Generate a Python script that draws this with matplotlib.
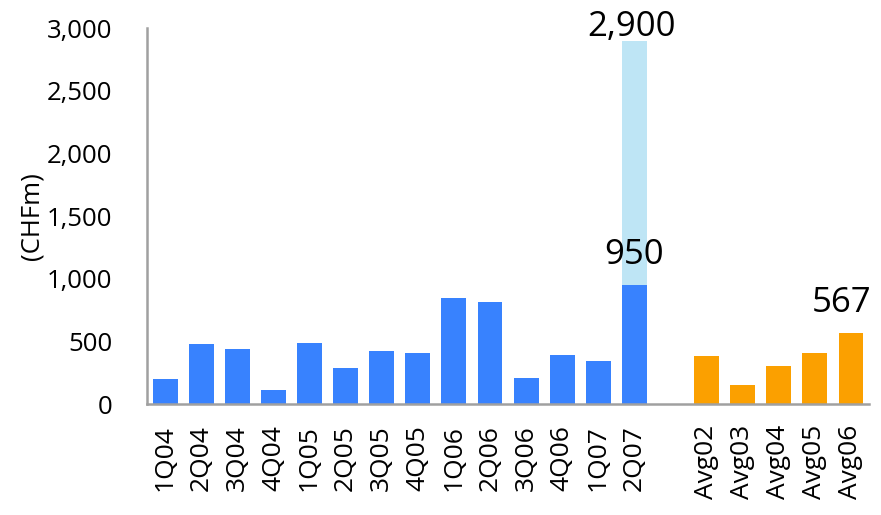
import numpy as np
import matplotlib.pyplot as plt

plt.rcParams['font.family'] = ['Open Sans', 'DejaVu Sans']

quarters = ['1Q04', '2Q04', '3Q04', '4Q04', '1Q05', '2Q05', '3Q05', '4Q05',
            '1Q06', '2Q06', '3Q06', '4Q06', '1Q07', '2Q07']
quarter_vals = [200, 475, 435, 115, 490, 290, 420, 405, 845, 810, 210, 390, 340, 950]
peak_2q07 = 2900

averages = ['Avg02', 'Avg03', 'Avg04', 'Avg05', 'Avg06']
avg_vals = [380, 155, 305, 405, 567]

BLUE = '#3882FE'
LIGHT = '#BEE5F5'
ORANGE = '#FBA000'
GREY = '#A0A0A0'

# quarters on slots 0..13, one empty slot, averages after
xq = np.arange(len(quarters))
xa = np.arange(len(averages)) + len(quarters) + 1

fig = plt.figure(figsize=(8.81, 5.15), dpi=100)
ax = fig.add_axes([0.1669, 0.2155, 0.8195, 0.7301])

w = 0.69
ax.bar(xq[-1], peak_2q07, width=w, color=LIGHT, zorder=1)
ax.bar(xq, quarter_vals, width=w, color=BLUE, zorder=2)
ax.bar(xa, avg_vals, width=w, color=ORANGE, zorder=2)

lbl = dict(textcoords='offset points', ha='center', va='baseline', fontsize=25)
ax.annotate(f'{peak_2q07:,}', (xq[-1], peak_2q07), xytext=(-2, 3.5), **lbl)
ax.annotate(f'{quarter_vals[-1]:,}', (xq[-1], quarter_vals[-1]), xytext=(0, 15), **lbl)
# keep the last label inside the figure edge
ax.annotate(f'{avg_vals[-1]:,}', (xa[-1], avg_vals[-1]), xytext=(-6.5, 15), **lbl)

ax.set_xlim(-0.5, xa[-1] + 0.5)
ax.set_ylim(0, 3000)
ax.set_yticks(np.arange(0, 3001, 500))
ax.set_yticklabels([f'{v:,}' for v in range(0, 3001, 500)])
ax.set_xticks(np.concatenate([xq, xa]))
ax.set_xticklabels(quarters + averages, rotation=90, va='top')

ax.tick_params(axis='y', length=0, pad=25, labelsize=18.5)
ax.tick_params(axis='x', length=0, pad=15, labelsize=19)

ax.set_ylabel('(CHFm)', fontsize=18.5)
ax.yaxis.set_label_coords(-0.142, 0.5)

for s in ['top', 'right']:
    ax.spines[s].set_visible(False)
for s in ['left', 'bottom']:
    ax.spines[s].set_color(GREY)
    ax.spines[s].set_linewidth(1.8)

fig.savefig('out.png', dpi=100)
